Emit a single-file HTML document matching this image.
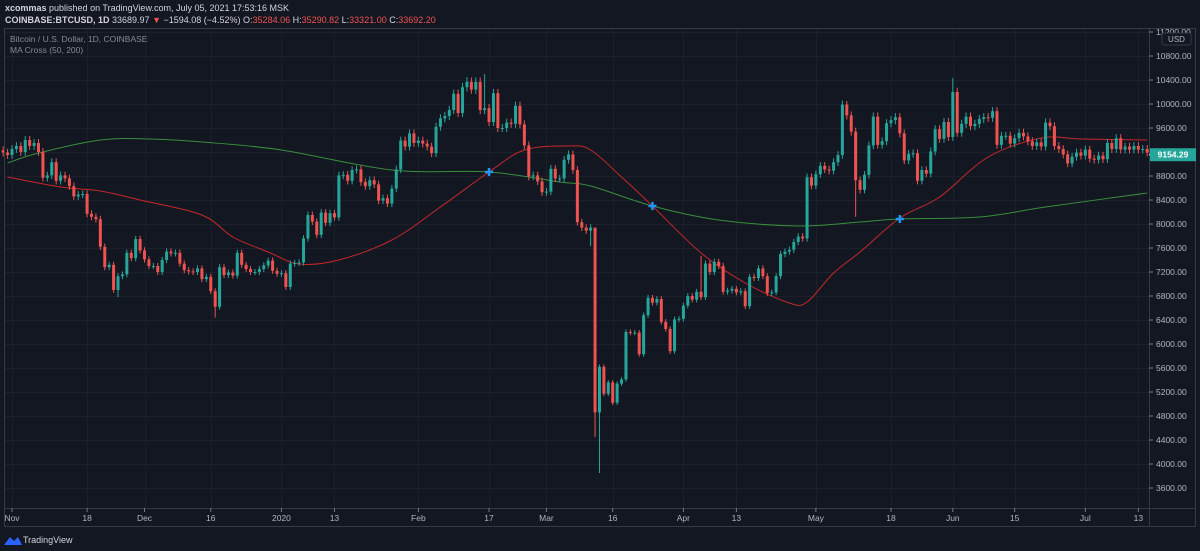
<!DOCTYPE html>
<html><head><meta charset="utf-8">
<style>
html,body{margin:0;padding:0;background:#131722;}
body{width:1200px;height:551px;overflow:hidden;font-family:"Liberation Sans",sans-serif;}
</style></head>
<body>
<svg id="chart" width="1200" height="551" viewBox="0 0 1200 551" xmlns="http://www.w3.org/2000/svg" style="display:block;font-family:'Liberation Sans',sans-serif">
  <rect x="0" y="0" width="1200" height="551" fill="#131722"/>
  <text x="5" y="11" font-size="9" fill="#d1d4dc"><tspan font-weight="bold">xcommas</tspan> published on TradingView.com, July 05, 2021 17:53:16 MSK</text>
  <text x="5" y="23" font-size="9" fill="#d1d4dc"><tspan font-weight="bold">COINBASE:BTCUSD, 1D</tspan> 33689.97 <tspan fill="#ef5350">▼</tspan> −1594.08 (−4.52%) O:<tspan fill="#ef5350">35284.06</tspan> H:<tspan fill="#ef5350">35290.82</tspan> L:<tspan fill="#ef5350">33321.00</tspan> C:<tspan fill="#ef5350">33692.20</tspan></text>
  <g id="grid"></g>
  <g id="ma200"></g>
  <g id="ma50"></g>
  <g id="candles"></g>
  <g id="crosses"></g>
  <rect x="4.5" y="28.5" width="1191" height="498" fill="none" stroke="#363a45"/>
  <line x1="4" y1="508.5" x2="1196" y2="508.5" stroke="#363a45"/>
  <line x1="1149.5" y1="28" x2="1149.5" y2="527" stroke="#363a45"/>
  <g id="yaxis"></g>
  <g id="xaxis"></g>
  <text x="10" y="42" font-size="8.5" fill="#868993">Bitcoin / U.S. Dollar, 1D, COINBASE</text>
  <text x="10" y="53" font-size="8.5" fill="#868993">MA Cross (50, 200)</text>
  <g>
    <rect x="1162" y="33" width="29" height="12" rx="2" fill="#131722" stroke="#363a45"/>
    <text x="1176.5" y="42" font-size="8" fill="#b2b5be" text-anchor="middle">USD</text>
  </g>
  <g>
    <rect id="lastbox" x="1150" y="148" width="46" height="13" fill="#26a69a"/>
    <text id="lasttext" x="1173" y="158" font-size="8.5" fill="#ffffff" text-anchor="middle" font-weight="bold">9154.29</text>
  </g>
  <g>
    <path d="M4 545 L10 537 L14 541 L18 537 L22 545 Z" fill="#2962ff"/>
    <text x="23" y="543" font-size="9" fill="#d1d4dc">TradingView</text>
  </g>
</svg>
<script>
// ---- data ----
const startDate = "2019-10-30";
const closes = [9190,9150,
9250,9300,9200,9400,9300,9350,9200,8770,8810,9030,8720,8810,8760,8630,8460,8490,8500,8170,8120,8080,7620,7280,7320,6900,7130,7160,7520,7430,7750,7560,
7410,7300,7300,7200,7400,7540,7510,7520,7340,7230,7210,7200,7260,7080,7120,6880,6620,7280,7150,7190,7140,7520,7320,7250,7200,7200,7250,7310,7390,7220,7170,
7180,6950,7340,7350,7360,7760,8150,8040,7820,8190,8020,8180,8110,8810,8820,8720,8900,8910,8700,8630,8730,8660,8390,8430,8340,8590,8910,9390,9290,9510,9350,
9390,9340,9290,9180,9620,9760,9800,9900,10170,9850,10280,10370,10240,10370,9900,9930,9700,10180,9600,9600,9690,9670,9970,9660,9310,8790,8810,8710,8530,
8540,8920,8760,8760,9070,9160,8900,8030,7940,7890,7940,4860,5620,5170,5360,5020,5340,5410,6200,6190,6190,5830,6480,6770,6690,6750,6370,6250,5880,6410,6420,
6640,6800,6740,6870,6780,7340,7200,7370,7300,6870,6890,6920,6860,6880,6630,7120,7100,7260,7130,6850,6860,7130,7500,7540,7570,7700,7790,7760,8780,8640,
8830,8970,8910,8890,9030,9150,9990,9810,9540,8730,8570,8820,9310,9790,9320,9380,9680,9730,9780,9510,9060,9170,9180,8720,8900,8840,9210,9580,9420,9700,9450,
10200,9520,9670,9790,9630,9670,9750,9780,9770,9880,9320,9470,9470,9340,9430,9520,9460,9380,9300,9360,9290,9690,9630,9300,9250,9160,9010,9120,9190,9140,
9240,9090,9070,9140,9080,9350,9250,9430,9240,9290,9240,9300,9240,9250,9190,9154];
const firstOpen = 9230;
const extremeIdx = [26,48,134,135,133,105,109,191,193,215,158];
const extremeHigh = [null,null,5950,null,null,10450,10500,10050,null,10430,7470];
const extremeLow = [6780,6440,4450,3850,7630,null,null,null,8120,null,null];
// moving averages: day offsets from Nov 1 and values
const maDays200 = [-1,6,20,31,43,61,86,108,124,131,145,160,178,192,201,219,234,257];
const ma200 = [9017,9183,9400,9417,9367,9233,8900,8867,8700,8633,8300,8067,7967,8033,8083,8117,8283,8517];
const maDays50 = [-1,11,20,29,43,50,58,65,74,86,97,108,116,126,131,138,145,156,166,176,180,186,192,201,210,221,233,242,257];
const ma50 = [8783,8617,8550,8400,8150,7783,7533,7333,7400,7733,8283,8867,9233,9300,9233,8783,8300,7517,7017,6683,6700,7183,7533,8100,8450,9117,9433,9417,9400];
const crossDays = [108,145,201];
const crossVals = [8867,8300,8083];
const priceTicks = [3600,4000,4400,4800,5200,5600,6000,6400,6800,7200,7600,8000,8400,8800,9200,9600,10000,10400,10800,11200];
const timeLabels = ["Nov","18","Dec","16","2020","13","Feb","17","Mar","16","Apr","13","May","18","Jun","15","Jul","13"];
const timeDays = [0,17,30,45,61,73,92,108,121,136,152,164,182,199,213,227,243,255];
const lastPrice = 9154.29;

// ---- scales ----
const NS="http://www.w3.org/2000/svg";
function yS(p){return 80+(10400-p)*0.06;}
function xDay(d){return 12+d*4.417;}
function xIdx(i){return xDay(i-2);}
function mk(tag,attrs,parent){const e=document.createElementNS(NS,tag);for(const k in attrs)e.setAttribute(k,attrs[k]);parent.appendChild(e);return e;}

const grid=document.getElementById('grid');
priceTicks.forEach(p=>{
  const l=mk('line',{x1:4,x2:1149,y1:Math.round(yS(p))+0.5,y2:Math.round(yS(p))+0.5,stroke:'#1c202b'},grid);
  
  
});
timeDays.forEach(d=>{
  const l=mk('line',{x1:Math.round(xDay(d))+0.5,x2:Math.round(xDay(d))+0.5,y1:28,y2:508,stroke:'#1c202b'},grid);
  
  
});

const ya=document.getElementById('yaxis');
priceTicks.forEach(p=>{
  const y=yS(p);
  mk('line',{x1:1149,x2:1153,y1:y,y2:y,stroke:'#787b86'},ya);
  const t=mk('text',{x:1156,y:y+3,'font-size':8.5,fill:'#b2b5be'},ya);
  t.textContent=p.toFixed(2);
  
  
});
const xa=document.getElementById('xaxis');
timeLabels.forEach((lb,i)=>{
  const x=xDay(timeDays[i]);
  mk('line',{x1:x,x2:x,y1:508,y2:512,stroke:'#787b86'},xa);
  const t=mk('text',{x:x,y:521,'font-size':8.5,fill:'#b2b5be','text-anchor':'middle'},xa);
  t.textContent=lb;
  
  
});

function drawMA(days,vals,color,gid){
  const g=document.getElementById(gid);
  const P=days.map((d,i)=>[xDay(d),yS(vals[i])]);
  let d='M'+P[0][0].toFixed(1)+' '+P[0][1].toFixed(1);
  for(let i=0;i<P.length-1;i++){
    const p0=P[Math.max(0,i-1)],p1=P[i],p2=P[i+1],p3=P[Math.min(P.length-1,i+2)];
    const c1=[p1[0]+(p2[0]-p0[0])/6,p1[1]+(p2[1]-p0[1])/6];
    const c2=[p2[0]-(p3[0]-p1[0])/6,p2[1]-(p3[1]-p1[1])/6];
    d+=` C${c1[0].toFixed(1)} ${c1[1].toFixed(1)} ${c2[0].toFixed(1)} ${c2[1].toFixed(1)} ${p2[0].toFixed(1)} ${p2[1].toFixed(1)}`;
  }
  const pl=mk('path',{d:d,fill:'none',stroke:color,'stroke-width':1},g);
  
  
}
drawMA(maDays200,ma200,'#388e3c','ma200');
drawMA(maDays50,ma50,'#c62828','ma50');

const cg=document.getElementById('candles');
closes.forEach((c,i)=>{
  const o=i===0?firstOpen:closes[i-1];
  let hi=Math.max(o,c)*1.007, lo=Math.min(o,c)*0.993;
  const k=extremeIdx.indexOf(i);
  if(k>=0){ if(extremeHigh[k]!==null)hi=extremeHigh[k]; if(extremeLow[k]!==null)lo=extremeLow[k]; }
  const up=c>=o, col=up?'#26a69a':'#ef5350';
  const x=xIdx(i);
  const w=mk('line',{x1:x,x2:x,y1:yS(hi),y2:yS(lo),stroke:col,'stroke-width':1},cg);
  
  
  const top=yS(Math.max(o,c)), h=Math.max(1,yS(Math.min(o,c))-top);
  const b=mk('rect',{x:x-1.5,y:top,width:3,height:h,fill:col},cg);
  
  
});

const xg=document.getElementById('crosses');
crossDays.forEach((d,i)=>{
  const x=xDay(d), y=yS(crossVals[i]);
  const p=mk('path',{d:`M${x-4} ${y}H${x+4}M${x} ${y-4}V${y+4}`,stroke:'#2196f3','stroke-width':2.5},xg);
  
  
});

const ly=yS(lastPrice);
document.getElementById('lastbox').setAttribute('y',ly-6.5);
document.getElementById('lasttext').setAttribute('y',ly+3);
mk('line',{x1:1149,x2:1153,y1:ly,y2:ly,stroke:'#ffffff'},ya);
</script>
</body></html>
